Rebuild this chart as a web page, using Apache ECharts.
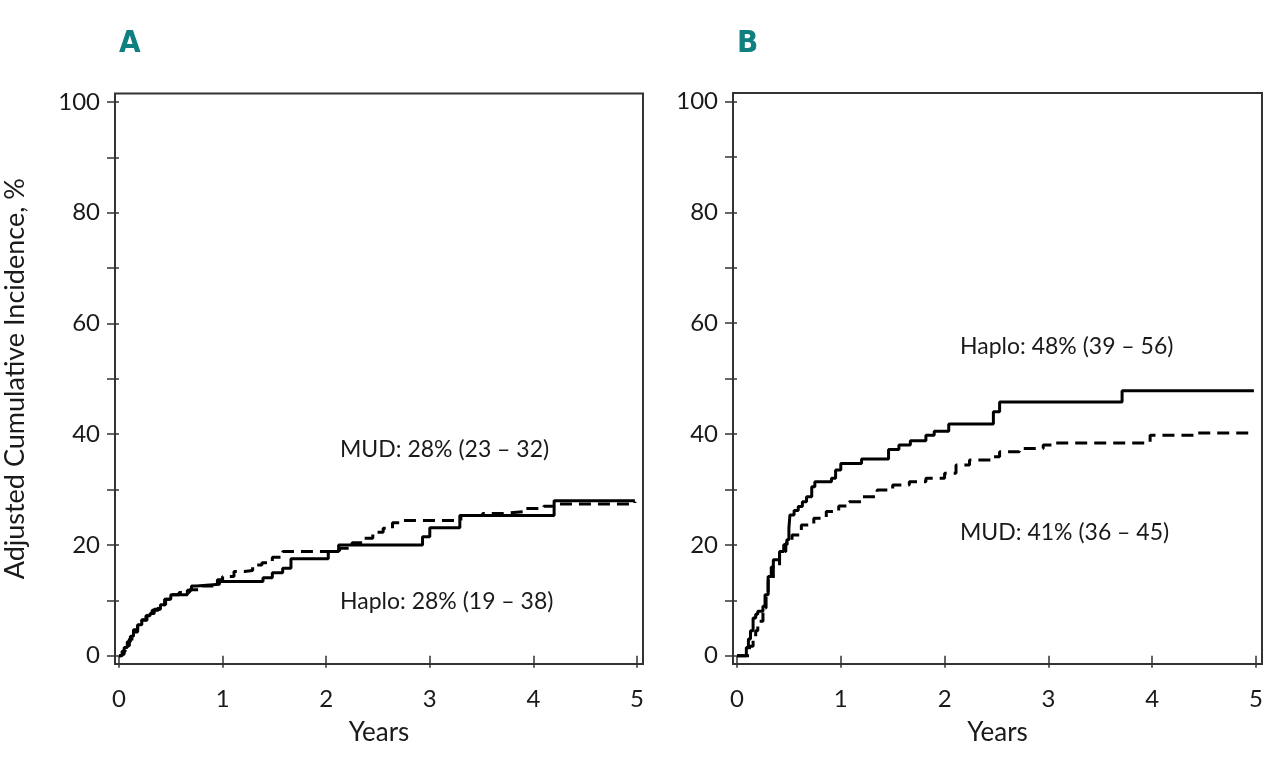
<!DOCTYPE html>
<html><head><meta charset="utf-8">
<script src="https://cdn.jsdelivr.net/npm/echarts@6/dist/echarts.min.js"></script>
<style>html,body{margin:0;padding:0;background:#fff}#c{width:1280px;height:757px}</style>
</head><body><div id="c"></div>
<script>
// Panel A: solid = Haplo, dashed = MUD
const haploA = [[0,0],[0.02,0.3],[0.05,1.5],[0.08,2.5],[0.11,3.5],[0.14,4.7],[0.18,5.6],[0.22,6.5],[0.26,7.2],[0.3,7.6],[0.34,8.4],[0.4,9.2],[0.45,10.2],[0.5,11.0],[0.66,11.8],[0.7,12.6],[0.75,12.9],[0.97,13.4],[1.39,14.1],[1.48,15.0],[1.58,15.8],[1.66,17.5],[2.02,18.8],[2.12,20.0],[2.93,21.5],[3.0,23.1],[3.29,25.3],[4.2,28.0],[4.98,28.0]];
const mudA = [[0,0],[0.03,0.8],[0.06,1.8],[0.1,3.0],[0.14,4.3],[0.18,5.4],[0.22,6.4],[0.27,7.3],[0.32,8.2],[0.38,9.2],[0.44,10.2],[0.5,11.0],[0.58,11.4],[0.68,11.9],[0.8,12.6],[0.95,13.7],[1.0,14.3],[1.11,15.2],[1.21,15.4],[1.29,16.4],[1.38,16.8],[1.48,17.8],[1.58,18.8],[2.06,19.0],[2.13,19.4],[2.25,20.4],[2.35,21.2],[2.45,22.3],[2.55,23.0],[2.64,24.0],[2.72,24.4],[3.3,25.3],[3.51,25.7],[3.71,26.0],[3.9,26.6],[4.1,27.0],[4.25,27.4],[4.98,27.8]];
// Panel B
const haploB = [[0,0],[0.07,0],[0.09,1.5],[0.11,3.0],[0.13,4.5],[0.155,6.8],[0.18,7.5],[0.2,8.0],[0.25,8.9],[0.27,11],[0.3,14.3],[0.33,16],[0.35,17.3],[0.41,18.8],[0.45,20],[0.48,20.9],[0.5,23],[0.51,25.4],[0.55,26.2],[0.59,26.9],[0.63,27.8],[0.67,28.7],[0.72,30.5],[0.75,31.4],[0.91,32.0],[0.95,33.5],[1.0,34.7],[1.2,35.5],[1.46,37.2],[1.56,38.0],[1.67,38.8],[1.82,39.8],[1.9,40.5],[2.04,41.8],[2.47,44.0],[2.53,45.8],[3.71,47.8],[4.98,47.8]];
const mudB = [[0,0],[0.1,0],[0.12,1.7],[0.155,2.9],[0.18,4.5],[0.2,6.2],[0.25,8.6],[0.28,11],[0.3,13.7],[0.35,16.1],[0.41,18.8],[0.47,20.3],[0.53,21.8],[0.62,23.6],[0.74,24.8],[0.86,26.0],[0.98,27.0],[1.08,27.8],[1.2,28.7],[1.35,29.9],[1.5,30.8],[1.66,31.4],[1.82,32.0],[2.0,32.9],[2.11,34.4],[2.24,35.3],[2.45,35.9],[2.53,36.8],[2.72,37.4],[2.95,38.0],[3.05,38.4],[3.98,39.8],[4.43,40.2],[4.97,40.5]];
const xTicks = [0,1,2,3,4,5];
const yLabels = [0,20,40,60,80,100];
const yTicks = [0,10,20,30,40,50,60,70,80,90,100];
const panelLabels = ['A','B'];
const annotations = [
  {text:'MUD: 28% (23 \u2013 32)', x:340, y:450},
  {text:'Haplo: 28% (19 \u2013 38)', x:340, y:602},
  {text:'Haplo: 48% (39 \u2013 56)', x:960, y:347},
  {text:'MUD: 41% (36 \u2013 45)', x:960, y:533}
];

const FONT = 'Lato';
const TXT = '#1a1a1a';
function xAxis(i){
  return {gridIndex:i,type:'value',min:-0.0386,max:5.058,
    name:'Years',nameLocation:'middle',nameGap:56,
    nameTextStyle:{fontFamily:FONT,fontSize:26,color:TXT},
    axisLine:{show:false},splitLine:{show:false},
    axisTick:{show:true,inside:false,length:12,customValues:xTicks,lineStyle:{color:'#333',width:1.5}},
    axisLabel:{customValues:xTicks,margin:23,fontFamily:FONT,fontSize:24,color:TXT}};
}
function yAxis(i){
  return {gridIndex:i,type:'value',min:-1.5,max:101.54,
    name:i===0?'Adjusted Cumulative Incidence, %':'',nameLocation:'middle',nameGap:86,
    nameTextStyle:{fontFamily:FONT,fontSize:27,color:TXT},
    axisLine:{show:false},splitLine:{show:false},
    axisTick:{show:true,inside:false,length:12,customValues:yTicks,lineStyle:{color:'#333',width:1.5}},
    axisLabel:{customValues:yLabels,margin:15,fontFamily:FONT,fontSize:24,color:TXT}};
}
function line(i,data,dashed){
  return {type:'line',xAxisIndex:i,yAxisIndex:i,data:data,step:'end',showSymbol:false,symbol:'none',
    animation:false,lineStyle:{color:'#000',width:3,type:dashed?[12,7]:'solid'}};
}
const chart = echarts.init(document.getElementById('c'),null,{renderer:'canvas'});
chart.setOption({
  backgroundColor:'#fff',
  animation:false,
  grid:[
    {left:115,top:93.5,width:528,height:570.5,show:true,borderColor:'#333',borderWidth:2,backgroundColor:'transparent'},
    {left:733,top:93,width:529,height:571,show:true,borderColor:'#333',borderWidth:2,backgroundColor:'transparent'}
  ],
  xAxis:[xAxis(0),xAxis(1)],
  yAxis:[yAxis(0),yAxis(1)],
  series:[line(0,haploA,false),line(0,mudA,true),line(1,haploB,false),line(1,mudB,true)],
  graphic:[
    {type:'text',left:119,top:28,style:{text:panelLabels[0],fontFamily:'DejaVu Sans Condensed',fontWeight:'bold',fontSize:31,fill:'#0f7f80'}},
    {type:'text',left:737,top:28,style:{text:panelLabels[1],fontFamily:'DejaVu Sans Condensed',fontWeight:'bold',fontSize:31,fill:'#0f7f80'}}
  ].concat(annotations.map(a=>({type:'text',x:a.x,y:a.y,style:{text:a.text,fontFamily:FONT,fontSize:23,fill:TXT,verticalAlign:'middle',align:'left'}})))
});
</script></body></html>
